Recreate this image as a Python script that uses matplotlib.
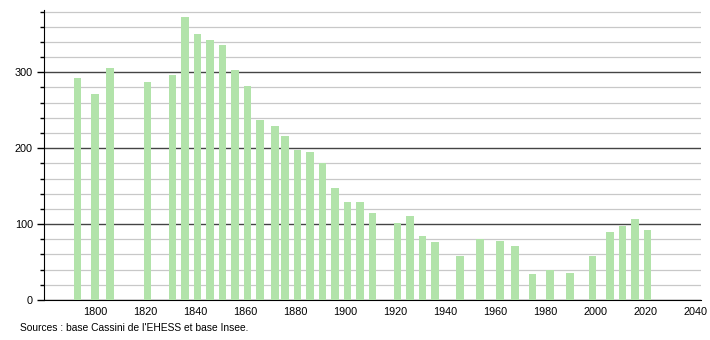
import matplotlib.pyplot as plt
from matplotlib.ticker import MultipleLocator

plt.rcParams["font.family"] = ["Liberation Sans", "DejaVu Sans"]

years = [1793, 1800, 1806, 1821, 1831, 1836, 1841, 1846, 1851, 1856,
         1861, 1866, 1872, 1876, 1881, 1886, 1891, 1896, 1901, 1906,
         1911, 1921, 1926, 1931, 1936, 1946, 1954, 1962, 1968, 1975,
         1982, 1990, 1999, 2006, 2011, 2016, 2021]
population = [292, 272, 305, 287, 296, 373, 350, 343, 336, 303,
              282, 237, 229, 216, 197, 195, 180, 148, 129, 129,
              115, 102, 111, 84, 76, 58, 80, 78, 71, 34,
              39, 36, 58, 90, 97, 107, 92]

x_ticks = list(range(1800, 2041, 20))
source_text = "Sources : base Cassini de l'EHESS et base Insee."


def main():
    fig = plt.figure(figsize=(7.1, 3.4), dpi=100)
    ax = fig.add_axes([44 / 710, 40 / 340, 657 / 710, 290 / 340])

    ax.bar(years, population, width=3, color="#b2e3aa", zorder=3)

    ax.set_xlim(1779.6, 2042.4)
    ax.set_ylim(0, 382)

    ax.yaxis.set_major_locator(MultipleLocator(100))
    ax.yaxis.set_minor_locator(MultipleLocator(20))
    ax.grid(which="minor", axis="y", color="#c8c8c8", linewidth=0.9, zorder=1)
    ax.grid(which="major", axis="y", color="#444444", linewidth=1.0, zorder=2)

    ax.set_xticks(x_ticks)
    ax.tick_params(axis="x", length=0, labelsize=7.8, pad=5)
    ax.tick_params(axis="y", which="major", length=5, width=1, labelsize=7.8, pad=3)
    ax.tick_params(axis="y", which="minor", length=3, width=1)

    for side in ["top", "right"]:
        ax.spines[side].set_visible(False)
    ax.spines["left"].set_color("black")
    ax.spines["bottom"].set_color("black")

    fig.text(20 / 710, 1 - 328 / 340, source_text, fontsize=7.4, va="center")

    fig.savefig("out.png", dpi=100)


if __name__ == "__main__":
    main()
